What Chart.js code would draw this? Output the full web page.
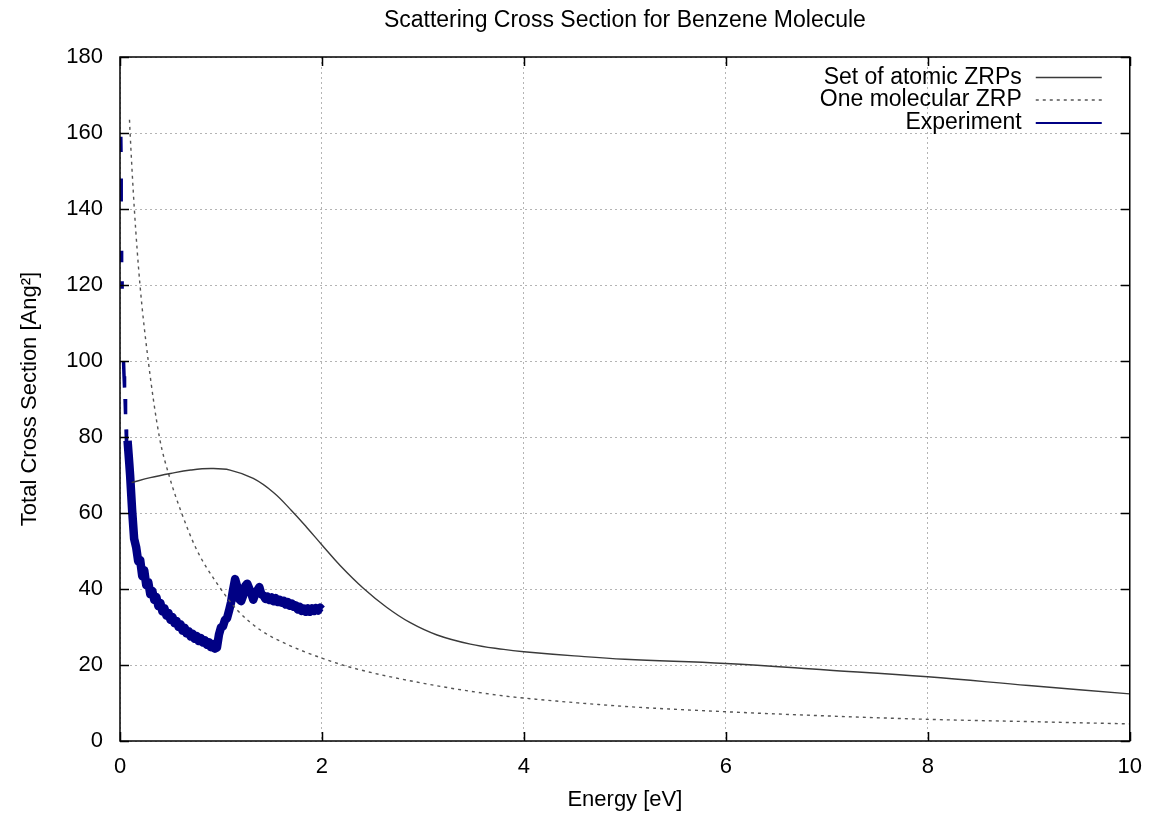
<!DOCTYPE html>
<html>
<head>
<meta charset="utf-8">
<script src="https://cdn.jsdelivr.net/npm/chart.js@4.4.1/dist/chart.umd.min.js"></script>
<style>
html,body{margin:0;padding:0;background:#fff;}
canvas{display:block;}
</style>
</head>
<body>
<canvas id="c" width="1155" height="815"></canvas>
<script>
// ---- Data ----
const xTicks = [0, 2, 4, 6, 8, 10];
const yTicks = [0, 20, 40, 60, 80, 100, 120, 140, 160, 180];

const atomicE  = [0.115, 0.3, 0.5, 0.7, 0.9, 1.09, 1.32, 1.52, 1.70, 1.85, 2.0, 2.18, 2.41, 2.64, 2.87, 3.14, 3.47, 3.8, 4.0, 4.5, 5.0, 6.0, 7.0, 8.0, 9.0, 10.0];
const atomicCS = [68.0, 69.3, 70.4, 71.3, 71.7, 71.3, 69.1, 65.4, 60.6, 56.2, 51.6, 46.2, 40.2, 35.2, 31.2, 27.9, 25.5, 24.1, 23.5, 22.4, 21.5, 20.4, 18.7, 16.9, 14.6, 12.4];

const molE  = [0.094, 0.10, 0.142, 0.198, 0.28, 0.39, 0.49, 0.61, 0.76, 0.96, 1.16, 1.39, 1.65, 2.0, 2.31, 3.0, 3.76, 4.0, 5.0, 6.0, 7.0, 8.0, 9.0, 10.0];
const molCS = [163.5, 160, 140, 120, 100, 80, 69.5, 60, 50.3, 41.5, 34.5, 29.2, 25.5, 21.8, 19.2, 15.2, 12.0, 11.3, 9.1, 7.7, 6.6, 5.7, 5.1, 4.5];

// experiment: leading broken dashes (nulls = gaps), then the continuous noisy band
const expE = [0.008, 0.010, 0.010, 0.011, 0.012, 0.013, 0.015, 0.016, 0.017, 0.020, 0.021, 0.022,
  0.035, 0.040, 0.045, 0.047, 0.050, 0.055, 0.057, 0.060, 0.065, 0.067,
  0.075, 0.085, 0.092, 0.10, 0.12, 0.14, 0.16, 0.18, 0.20, 0.22, 0.24, 0.26, 0.28, 0.30,
  0.32, 0.34, 0.36, 0.38, 0.40, 0.42, 0.44, 0.46, 0.48, 0.50, 0.52, 0.54, 0.56, 0.58, 0.60,
  0.62, 0.64, 0.66, 0.68, 0.70, 0.72, 0.74, 0.76, 0.78, 0.80, 0.82, 0.84, 0.86, 0.88, 0.90,
  0.92, 0.94, 0.96, 0.98, 1.00, 1.02, 1.04, 1.06, 1.08, 1.10, 1.12, 1.14, 1.16, 1.18, 1.20,
  1.22, 1.24, 1.26, 1.28, 1.30, 1.32, 1.34, 1.36, 1.38, 1.40, 1.42, 1.44, 1.46, 1.48, 1.50,
  1.52, 1.54, 1.56, 1.58, 1.60, 1.62, 1.64, 1.66, 1.68, 1.70, 1.72, 1.74, 1.76, 1.78, 1.80,
  1.82, 1.84, 1.86, 1.88, 1.90, 1.92, 1.94, 1.96, 1.98, 2.00];
const expCS = [159, 155, null, 148, 142, null, 129, 126, null, 121, 119, null,
  100, 96, 93, null, 90, 86, null, 82, 78, null,
  79, 75.5, 73, 70.0, 60.8, 53.2, 51.0, 47.3, 47.6, 43.4, 44.9, 41.0, 41.8, 38.6,
  39.5, 37.1, 37.9, 35.5, 36.3, 34.1, 34.9, 33.0, 33.7, 31.9, 32.6, 31.0, 31.6, 30.0, 30.7,
  29.0, 29.8, 28.3, 28.9, 27.5, 28.2, 26.9, 27.6, 26.3, 27.1, 25.9, 26.5, 25.3, 26.0, 24.7,
  25.5, 24.3, 24.6, 28.0, 29.9, 30.2, 31.9, 32.3, 34.3, 36.5, 39.8, 42.6, 40.7, 37.3, 36.8,
  38.3, 40.8, 41.4, 40.1, 38.8, 37.2, 38.8, 39.6, 40.5, 38.6, 38.3, 37.4, 38.0, 37.1, 37.8,
  36.8, 37.6, 36.6, 37.2, 36.4, 36.9, 35.9, 36.6, 35.6, 36.2, 35.3, 35.7, 34.6, 35.3, 34.2,
  34.9, 34.0, 34.9, 34.0, 34.9, 34.2, 35.0, 34.3, 35.1, 34.6];
const expHeadCount = 22; // points belonging to the broken leading dashes

const seriesNames = ['Set of atomic ZRPs', 'One molecular ZRP', 'Experiment'];
const titleText = 'Scattering Cross Section for Benzene Molecule';
const xTitle = 'Energy [eV]';
const yTitle = 'Total Cross Section [Ang\u00B2]';

// ---- Styles ----
const FONT = 'Liberation Sans, Arial, Helvetica, sans-serif';
const FS = 22;
const FS_BIG = 23;
const styles = [
  {color: '#3a3a3a', width: 1.4, dash: []},
  {color: '#555555', width: 1.4, dash: [3, 4]},
  {color: '#000084', width: 8.5, dash: []}
];

const pts = (xs, ys) => xs.map((v, i) => ({x: v, y: ys[i]}));

Chart.defaults.font.family = FONT;
Chart.defaults.font.size = FS;
Chart.defaults.color = '#000';

const gnuplotFrame = {
  id: 'gnuplotFrame',
  afterDraw(chart) {
    const {ctx, chartArea: a, scales: {x, y}} = chart;
    ctx.save();
    // title centred over the plot area
    ctx.font = FS_BIG + 'px ' + FONT;
    ctx.fillStyle = '#000';
    ctx.textAlign = 'center';
    ctx.textBaseline = 'middle';
    ctx.fillText(titleText, (a.left + a.right) / 2, 21);

    ctx.strokeStyle = '#000';
    ctx.lineWidth = 1.5;
    ctx.setLineDash([]);
    const seg = (x1, y1, x2, y2) => { ctx.beginPath(); ctx.moveTo(x1, y1); ctx.lineTo(x2, y2); ctx.stroke(); };
    const TL = 9;
    xTicks.forEach(t => {
      const px = Math.round(x.getPixelForValue(t)) + 0.5;
      seg(px, a.bottom, px, a.bottom - TL);
      seg(px, a.top, px, a.top + TL);
    });
    yTicks.forEach(t => {
      const py = Math.round(y.getPixelForValue(t)) + 0.5;
      seg(a.left, py, a.left + TL, py);
      seg(a.right, py, a.right - TL, py);
    });
    ctx.strokeRect(a.left, a.top, a.right - a.left, a.bottom - a.top);

    // legend (gnuplot style, top right)
    ctx.font = FS_BIG + 'px ' + FONT;
    ctx.textAlign = 'right';
    const rowsY = [77.5, 100, 123];
    seriesNames.forEach((name, i) => {
      const yy = rowsY[i];
      ctx.fillText(name, a.right - 108, yy);
      const st = styles[i];
      ctx.strokeStyle = st.color;
      ctx.lineWidth = i === 2 ? 1.8 : 1.3;
      ctx.setLineDash(st.dash);
      seg(a.right - 94, yy, a.right - 28, yy);
    });
    ctx.restore();
  }
};

new Chart(document.getElementById('c'), {
  type: 'line',
  data: {
    datasets: [
      {label: seriesNames[0], data: pts(atomicE, atomicCS), borderColor: styles[0].color, borderWidth: styles[0].width,
       borderDash: styles[0].dash, pointRadius: 0, tension: 0.4, fill: false},
      {label: seriesNames[1], data: pts(molE, molCS), borderColor: styles[1].color, borderWidth: styles[1].width,
       borderDash: styles[1].dash, pointRadius: 0, cubicInterpolationMode: 'monotone', fill: false},
      {label: seriesNames[2], data: pts(expE.slice(expHeadCount), expCS.slice(expHeadCount)),
       borderColor: styles[2].color, borderWidth: styles[2].width,
       pointRadius: 0, tension: 0, fill: false, borderJoinStyle: 'round', borderCapStyle: 'butt'},
      {label: seriesNames[2] + ' (low-energy points)', data: pts(expE.slice(0, expHeadCount), expCS.slice(0, expHeadCount)),
       borderColor: styles[2].color, borderWidth: 3.5,
       pointRadius: 0, tension: 0, spanGaps: false, fill: false, borderCapStyle: 'butt'}
    ]
  },
  options: {
    responsive: false,
    animation: false,
    layout: {padding: {left: 0, right: 25, top: 57, bottom: 0}},
    plugins: {
      legend: {display: false},
      tooltip: {enabled: false},
      title: {display: false}
    },
    scales: {
      x: {
        type: 'linear', min: 0, max: 10,
        ticks: {stepSize: 2, padding: 13, maxRotation: 0, font: {size: FS}, color: '#000'},
        grid: {color: '#b4b4b4', lineWidth: 1, drawTicks: false},
        border: {display: false, dash: [2, 3]},
        title: {display: true, text: xTitle, font: {size: FS}, color: '#000', padding: {top: 0, bottom: 2}},
        afterFit: s => { s.height = 74; }
      },
      y: {
        type: 'linear', min: 0, max: 180,
        ticks: {stepSize: 20, padding: 17, font: {size: FS}, color: '#000'},
        grid: {color: '#b4b4b4', lineWidth: 1, drawTicks: false},
        border: {display: false, dash: [2, 3]},
        title: {display: true, text: yTitle, font: {size: FS}, color: '#000', padding: {top: 17, bottom: 0}},
        afterFit: s => { s.width = 120; }
      }
    }
  },
  plugins: [gnuplotFrame]
});
</script>
</body>
</html>
